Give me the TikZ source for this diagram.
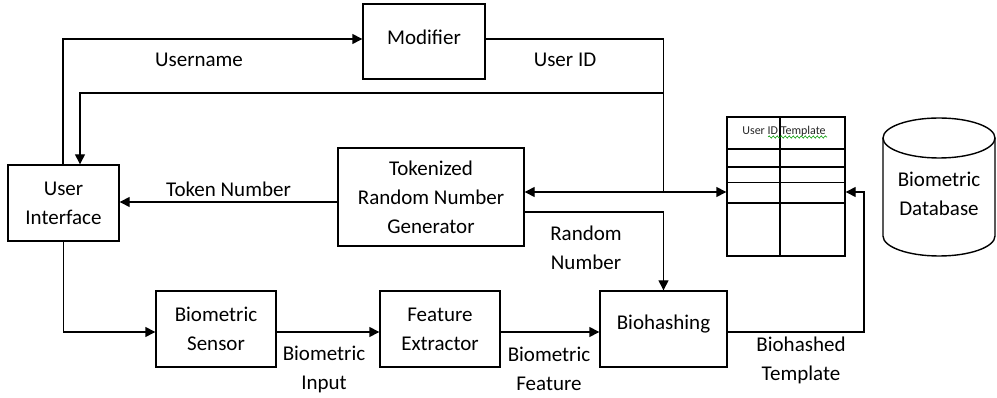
\documentclass[tikz,border=0pt]{standalone}
\usepackage{fontspec}
\setmainfont{Carlito}
\usetikzlibrary{arrows.meta,positioning,decorations.pathmorphing}

\begin{document}
\begin{tikzpicture}[x=1pt,y=-1pt,line width=1.4pt,
    every node/.style={font=\fontsize{21}{29}\selectfont,align=center},
    box/.style={draw,rectangle,line width=1.4pt,inner sep=0pt},
    arr/.style={-{Triangle[length=10pt,width=10pt]}},
    dbl/.style={{Triangle[length=10pt,width=10pt]}-{Triangle[length=10pt,width=10pt]}}]
        \useasboundingbox (0,0) rectangle (997,398);
        %% Boxes
        \node[box,minimum width=111,minimum height=76] (ui) at (63.5,203) {User\\Interface};
        \node[box,minimum width=122,minimum height=75] (mod) at (424,41.5) {};
        \node (modtxt) at (424,37) {Modifier};
        \node[box,minimum width=186,minimum height=98] (trng) at (431,197) {Tokenized\\Random Number\\Generator};
        \node[box,minimum width=120,minimum height=76] (sens) at (216,329) {Biometric\\Sensor};
        \node[box,minimum width=120,minimum height=76] (feat) at (440,329) {Feature\\Extractor};
        \node[box,minimum width=127,minimum height=76] (bioh) at (663.5,329) {};
        \node (biohtxt) at (663.5,324) {Biohashing};
        %% Table
        \node[box,minimum width=118,minimum height=139] (tbl) at (786,186.5) {};
        \draw (780,117) -- (780,256);
        \foreach \y in {149,167,182.5,203}
            \draw (727,\y) -- (845,\y);
        \node[font=\fontsize{12}{14}\selectfont,text=black!85] (hdr) at (784,131) {User ID Template};
        \draw[green!60!black,line width=0.6pt,decorate,decoration={snake,amplitude=1.1pt,segment length=4pt}] (768,137) -- (827,137);
        %% Database
        \draw (883,138) -- (883,236) arc (180:0:56 and 20) -- (995,138);
        \draw (939,138) ellipse (56 and 20);
        \node (db) at (939,194) {Biometric\\Database};
        %% Junctions
        \coordinate (uidtop) at (663.5,39);
        \coordinate (uidmid) at (663.5,93);
        \coordinate (uidjn) at (663.5,192);
        \coordinate (bhturn) at (864,192);
        %% Lines
        \draw[arr] ([xshift=-0.5]ui.north) |- ([yshift=2.5]mod.west);
        \node (uname) at (199,60) {Username};
        \draw ([yshift=2.5]mod.east) -- (uidtop) -- (uidjn);
        \node (uid) at (565,60) {User ID};
        \draw[arr] (uidmid) -| ([xshift=16.5]ui.north);
        \draw[dbl] (trng.east |- uidjn) -- (tbl.west |- uidjn);
        \draw[arr] ([yshift=-5]trng.west) -- ([yshift=-5]trng.west -| ui.east) node[pos=0.5,above=1pt] (tok) {Token Number};
        \draw[arr] ([yshift=-15]trng.east) -| (bioh.north);
        \node (rnd) at (586,248) {Random\\Number};
        \draw[arr] (ui.south) |- ([yshift=-3]sens.west);
        \draw[arr] ([yshift=-3]sens.east) -- ([yshift=-3]feat.west);
        \node (bin) at (324,369) {Biometric\\Input};
        \draw[arr] ([yshift=-3]feat.east) -- ([yshift=-3]bioh.west);
        \node (bft) at (549,369) {Biometric\\Feature};
        \draw[arr] ([yshift=-3]bioh.east) -| (bhturn) -- (tbl.east |- uidjn);
        \node (bht) at (801,360) {Biohashed\\Template};
\end{tikzpicture}
\end{document}
